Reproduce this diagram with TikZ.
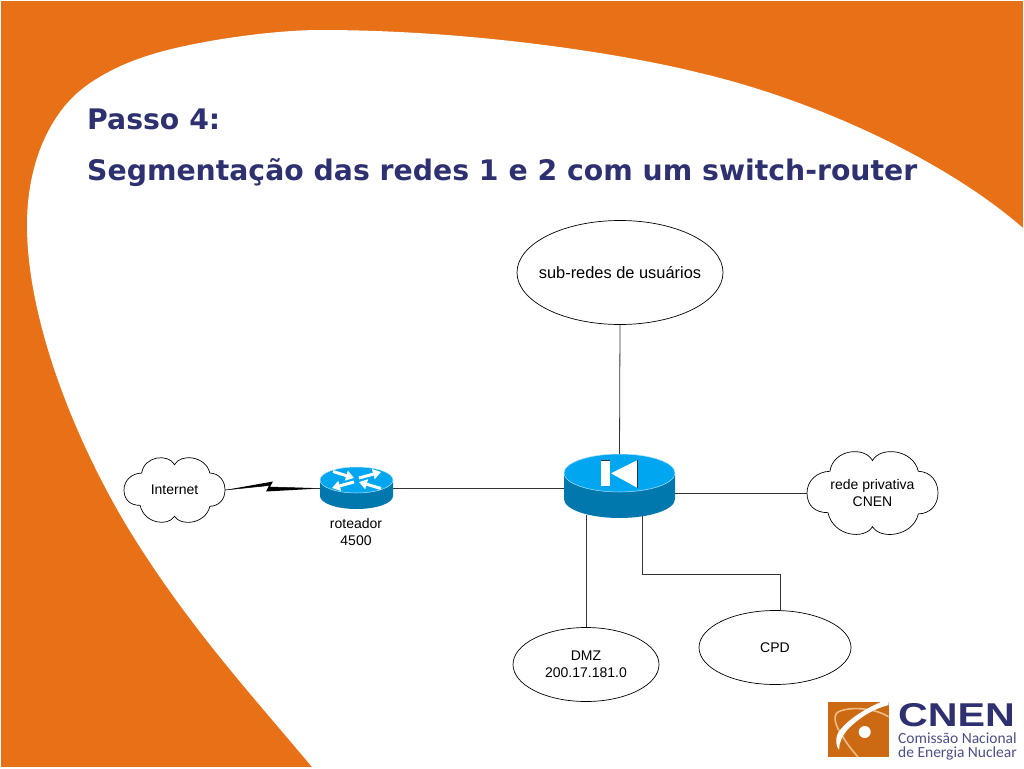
\documentclass[tikz,border=0pt]{standalone}
\usepackage{fontspec}
\setmainfont{Liberation Sans}
\newfontfamily\titlefont{DejaVu Sans}
\newfontfamily\logofont{Carlito}
\usetikzlibrary{shapes.geometric,arrows.meta}
\definecolor{orangebg}{HTML}{E87118}
\definecolor{navy}{HTML}{2E3070}
\definecolor{toplight}{HTML}{00A6F0}
\definecolor{sidedark}{HTML}{0078AE}
\definecolor{logoor}{HTML}{CC6A14}
\definecolor{logolite}{HTML}{EDBE85}
\newcommand{\cloudat}[4]{%
 \draw[line width=0.7pt,fill=white,shift={(#1pt,-#2pt)},x=#3pt,y=#4pt]
  (-1,0) .. controls (-1,.3) and (-.85,.52) .. (-.65,.53)
  .. controls (-.6,1.07) and (-.12,1.15) .. (0,.79)
  .. controls (.12,1.15) and (.62,1.07) .. (.7,.53)
  .. controls (.88,.52) and (1,.3) .. (1,0)
  .. controls (1,-.3) and (.88,-.5) .. (.7,-.51)
  .. controls (.62,-1.06) and (.12,-1.15) .. (0,-.82)
  .. controls (-.12,-1.15) and (-.6,-1.06) .. (-.68,-.48)
  .. controls (-.88,-.48) and (-1,-.3) .. (-1,0) -- cycle;}
\newcommand{\routerbody}[5]{% cx, top-ellipse cy, rx, ry, depth
 \fill[sidedark,shift={(#1pt,-#2pt)},x=1pt,y=1pt]
   (-#3,0) -- (-#3,-#5) arc[start angle=180,end angle=360,x radius=#3,y radius=#4] -- (#3,0) -- cycle;
 \fill[toplight,draw=white!70!toplight,line width=0.5pt,shift={(#1pt,-#2pt)},x=1pt,y=1pt]
   (0,0) ellipse[x radius=#3,y radius=#4];}
\tikzset{
 lbl/.style={font=\fontsize{14}{17}\selectfont,align=center,inner sep=0pt,text=black},
 oval/.style={ellipse,draw,line width=0.7pt,fill=white,inner sep=0pt},
 wire/.style={draw=black!80,line width=0.8pt},
 hold/.style={inner sep=0pt,rectangle},
 rarrow/.style={white,line width=3pt,-{Triangle[length=8pt,width=10pt]}},
 ttl/.style={font=\titlefont\bfseries\fontsize{28.3}{33}\selectfont,text=navy,anchor=base west,inner sep=0pt}
}
\begin{document}
\begin{tikzpicture}[x=1pt,y=-1pt]
\useasboundingbox (0,0) rectangle (1024,768);
\fill[white] (0,0) rectangle (1024,768);
\fill[orangebg] (1.3,1.3) rectangle (1022.7,766.7);
\fill[white] (1023,228) .. controls (945,160) and (815,100) .. (700,73)
 .. controls (620,53) and (470,30) .. (320,30)
 .. controls (270,30) and (190,42) .. (150,55)
 .. controls (120,64) and (90,80) .. (73,97)
 .. controls (45,125) and (27,170) .. (27,225)
 .. controls (27,320) and (75,440) .. (128,528)
 .. controls (188,626) and (252,695) .. (312,767)
 -- (1023,767) -- cycle;
% title
\node[ttl] (t1) at (87,129.3) {Passo 4:};
\node[ttl] (t2) at (87,180) {Segmentação das redes 1 e 2 com um switch-router};
% network nodes
\cloudat{174.5}{490}{50.5}{32}
\node[lbl] (internet) at (174.5,490) [hold,minimum width=101pt,minimum height=64pt] {Internet};
\cloudat{872.5}{493}{65.5}{41}
\node[lbl] (privada) at (872.5,493) [hold,minimum width=131pt,minimum height=82pt] {rede privativa\\CNEN};
\node[oval,minimum width=206pt,minimum height=104pt] (subredes) at (620,272.5) {};
\node[lbl,font=\fontsize{16.4}{19}\selectfont] (subtxt) at (subredes.center) {sub-redes de usuários};
\node[oval,minimum width=146pt,minimum height=74pt] (dmz) at (586,664.5) {};
\node[lbl] (dmztxt) at (dmz.center) {DMZ\\200.17.181.0};
\node[oval,lbl,minimum width=152pt,minimum height=74pt] (cpd) at (775,647.5) {CPD};
\node[lbl] (lblrot) at (356,531.5) {roteador\\4500};
% small router
\routerbody{356.5}{480}{36.5}{13}{16}
\node[hold,minimum width=73pt,minimum height=41pt] (rot) at (356.5,488.5) {};
\coordinate (a1) at (333,471.5);
\coordinate (a2) at (354,478);
\coordinate (a3) at (359,478);
\coordinate (a4) at (381,472);
\coordinate (a5) at (354,482);
\coordinate (a6) at (332,488);
\coordinate (a7) at (381,488.5);
\coordinate (a8) at (359,482);
\draw[rarrow] (a1) -- (a2);
\draw[rarrow] (a3) -- (a4);
\draw[rarrow] (a5) -- (a6);
\draw[rarrow] (a7) -- (a8);
% switch router
\routerbody{619.5}{473}{55.5}{19}{26}
\node[hold,minimum width=111pt,minimum height=64pt] (sw) at (619.5,486) {};
\fill[white] (601,460) rectangle (609.5,485.7);
\fill[white] (637.7,460) -- (637.7,488) -- (611,473.3) -- cycle;
\draw[black!80,line width=0.5pt] (601,460) -- (609.5,460) (637.7,460) -- (637.7,488);
% anchors on switch
\coordinate (swW) at (sw.west |- 0,488.5);
\coordinate (swE) at (sw.east |- 0,493);
\coordinate (swA) at (586,515);
\coordinate (swB) at (642,516);
\coordinate (cpdT) at (780,611);
\coordinate (cpdM) at (780,574);
\coordinate (bolt1) at (273,481.5);
\coordinate (bolt2) at (270,487);
\coordinate (bolt3) at (266,491.5);
\coordinate (bolt4) at (269,485.5);
% connectors
\draw[wire] (subredes.south) -- (sw.north);
\draw[wire] (rot.east) -- (swW);
\draw[wire] (swE) -- (privada.west);
\draw[wire] (swA) -- (dmz.north);
\draw[wire] (swB) |- (cpdM) -- (cpdT);
\fill[black] (internet.east) -- (bolt1) -- (bolt2) -- (rot.west) -- (bolt3) -- (bolt4) -- cycle;
\draw[black,line width=0.5pt] (internet.east) -- (bolt4) (bolt2) -- (rot.west);
% logo
\fill[logoor] (828,702) rectangle (888.5,757);
\begin{scope}
\clip (828,702) rectangle (888.5,757);
\draw[logolite,line width=1.6pt] (889,717) .. controls (875,708) and (850,706) .. (838,712)
 .. controls (832,716) and (836,727) .. (842,735)
 .. controls (846,743) and (852,750) .. (858,757);
\fill[white] (881,702) .. controls (862,710) and (845,722) .. (838,733)
 .. controls (835,740) and (836,746) .. (839,750)
 .. controls (839,743) and (842,736) .. (848,729)
 .. controls (858,719) and (872,709) .. (889,705) -- (889,702) -- cycle;
\end{scope}
\fill[white] (864.7,732) circle[radius=6];
\node[inner sep=0pt,anchor=center,text=navy,font=\bfseries\fontsize{33}{33}\selectfont,xscale=1.25] (lg) at (956.5,715) {CNEN};
\node[inner sep=0pt,anchor=base west,text=navy!85!white,font=\logofont\fontsize{15.5}{15.5}\selectfont] (lg1) at (898,743) {Comissão Nacional};
\node[inner sep=0pt,anchor=base west,text=navy!85!white,font=\logofont\fontsize{15.5}{15.5}\selectfont] (lg2) at (898,757.5) {de Energia Nuclear};
\end{tikzpicture}
\end{document}
